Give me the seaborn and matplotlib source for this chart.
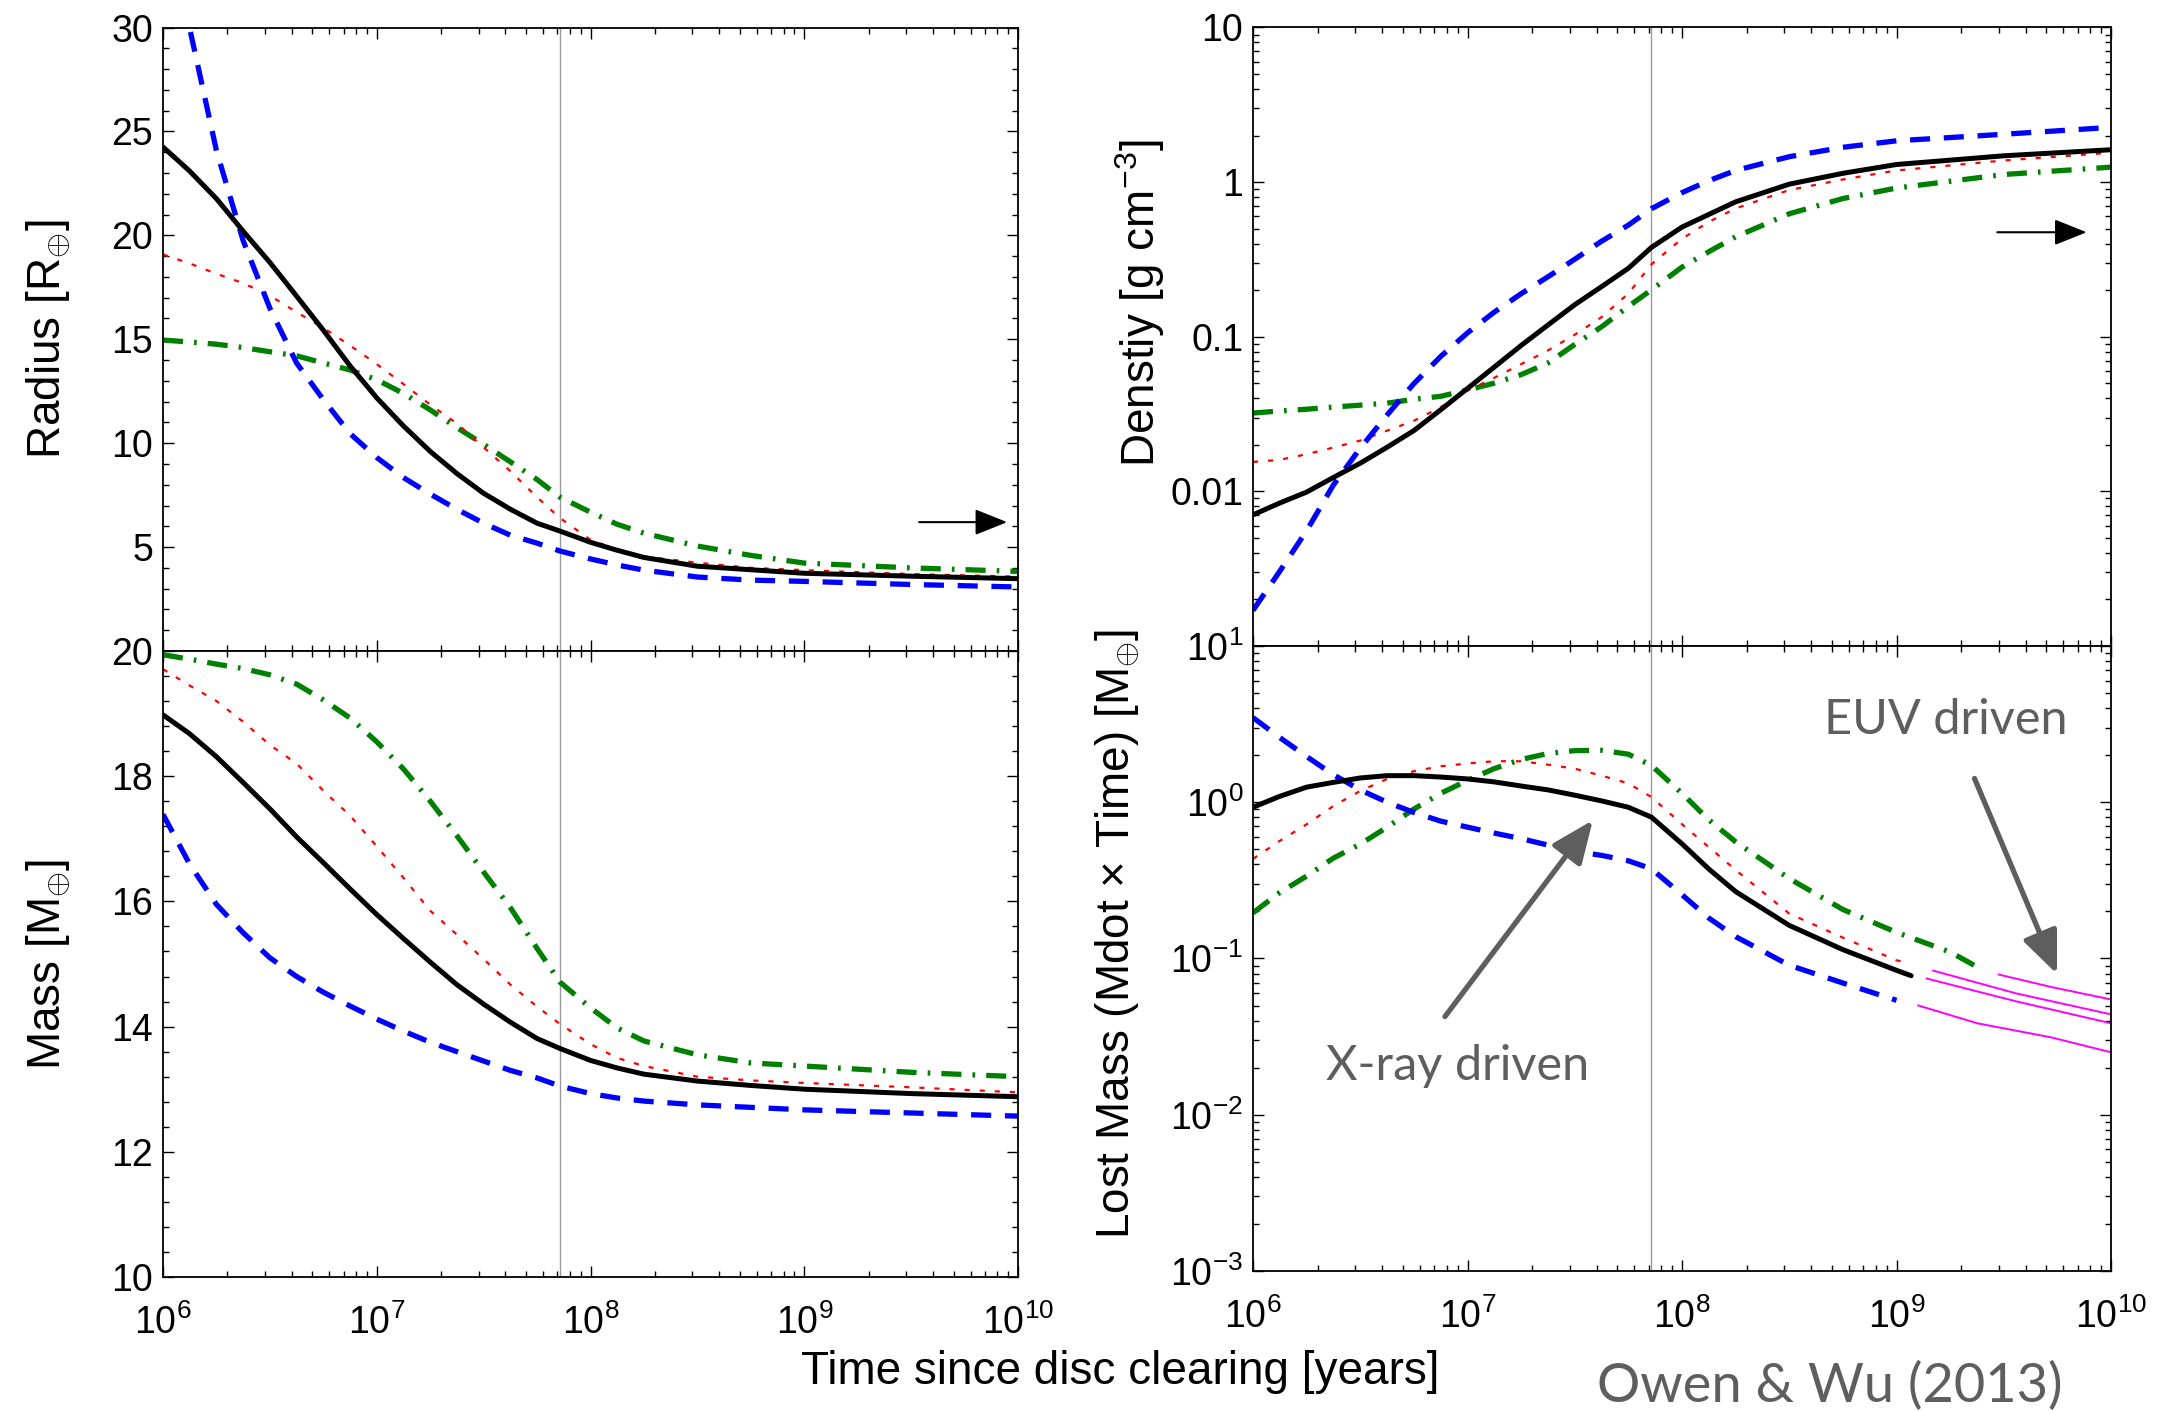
import numpy as np
import pandas as pd
import matplotlib
matplotlib.use('Agg')
import matplotlib.pyplot as plt
from matplotlib.ticker import AutoMinorLocator, LogLocator, NullFormatter, FixedLocator, FixedFormatter
import seaborn as sns

# ---- data ----
# time since disc clearing [yr]
t = [1e6, 1.33e6, 1.78e6, 2.37e6, 3.16e6, 4.22e6, 5.62e6, 7.5e6, 1e7, 1.33e7,
     1.78e7, 2.37e7, 3.16e7, 4.22e7, 5.62e7, 7.2e7, 1e8, 1.33e8, 1.78e8, 3.16e8,
     5.62e8, 1e9, 3.16e9, 1e10]

radius_black = [24.25, 23.1, 21.76, 20.2, 18.7, 17.07, 15.44, 13.72, 12.18, 10.84,
                9.6, 8.54, 7.59, 6.82, 6.15, 5.77, 5.23, 4.85, 4.5, 4.08,
                3.91, 3.74, 3.6, 3.48]
radius_blue = [36.0, 30.0, 24.06, 19.75, 16.5, 13.85, 12.1, 10.46, 9.31, 8.35,
               7.55, 6.82, 6.15, 5.57, 5.19, 4.81, 4.43, 4.14, 3.89, 3.56,
               3.41, 3.35, 3.2, 3.08]
radius_red = [19.08, 18.65, 18.15, 17.7, 17.1, 16.3, 15.55, 14.7, 13.8, 12.85,
              11.85, 10.95, 9.8, 8.65, 7.4, 6.4, 5.35, 4.87, 4.55, 4.25,
              4.0, 3.89, 3.7, 3.58]
radius_green = [14.96, 14.87, 14.76, 14.6, 14.4, 14.2, 13.86, 13.52, 13.05, 12.4,
                11.6, 10.75, 9.95, 9.1, 8.25, 7.4, 6.68, 6.1, 5.67, 5.05,
                4.6, 4.23, 4.0, 3.83]

mass_black = [18.98, 18.68, 18.31, 17.9, 17.48, 17.03, 16.62, 16.2, 15.79, 15.41,
              15.03, 14.67, 14.36, 14.07, 13.81, 13.65, 13.46, 13.34, 13.24, 13.13,
              13.06, 13.0, 12.93, 12.88]
mass_blue = [17.39, 16.6, 15.95, 15.5, 15.1, 14.8, 14.55, 14.33, 14.12, 13.93,
             13.75, 13.6, 13.45, 13.3, 13.18, 13.05, 12.93, 12.86, 12.81, 12.75,
             12.71, 12.67, 12.62, 12.57]
mass_red = [19.71, 19.45, 19.2, 18.87, 18.5, 18.2, 17.77, 17.37, 16.88, 16.38,
            15.85, 15.47, 15.08, 14.67, 14.32, 14.04, 13.72, 13.5, 13.37, 13.2,
            13.14, 13.1, 13.03, 12.95]
mass_green = [19.94, 19.87, 19.79, 19.72, 19.62, 19.47, 19.22, 18.93, 18.55, 18.12,
              17.6, 17.05, 16.47, 15.9, 15.25, 14.71, 14.3, 13.98, 13.77, 13.55,
              13.42, 13.37, 13.27, 13.2]

dens_black = [0.00705, 0.0084, 0.0099, 0.0123, 0.0152, 0.0193, 0.0247, 0.0337, 0.0463, 0.0635,
              0.0879, 0.119, 0.161, 0.211, 0.277, 0.378, 0.512, 0.617, 0.746, 0.97,
              1.14, 1.3, 1.48, 1.62]
dens_blue = [0.0017, 0.00303, 0.00558, 0.011, 0.019, 0.0312, 0.0497, 0.0746, 0.106, 0.144,
             0.19, 0.244, 0.317, 0.415, 0.527, 0.673, 0.855, 1.02, 1.19, 1.46,
             1.68, 1.85, 2.04, 2.26]
dens_red = [0.0155, 0.016, 0.0174, 0.0192, 0.0213, 0.0247, 0.0286, 0.035, 0.0448, 0.0542,
            0.0665, 0.0815, 0.103, 0.134, 0.19, 0.294, 0.43, 0.552, 0.676, 0.889,
            1.04, 1.19, 1.38, 1.55]
dens_green = [0.0321, 0.0331, 0.034, 0.0351, 0.0361, 0.0372, 0.0394, 0.0412, 0.0452, 0.0501,
              0.0569, 0.0676, 0.0891, 0.116, 0.157, 0.201, 0.282, 0.354, 0.443, 0.624,
              0.783, 0.916, 1.12, 1.25]

# lost mass (X-ray driven part), up to ~1e9 yr
t_lost = t[:22]
lost_black = [0.929, 1.09, 1.25, 1.34, 1.43, 1.48, 1.48, 1.45, 1.41, 1.35,
              1.27, 1.2, 1.11, 1.02, 0.929, 0.803, 0.542, 0.375, 0.268, 0.163,
              0.114, 0.084]
lost_blue = [3.48, 2.6, 1.96, 1.5, 1.2, 1.0, 0.861, 0.757, 0.693, 0.635,
             0.585, 0.532, 0.485, 0.457, 0.422, 0.375, 0.256, 0.182, 0.138, 0.0906,
             0.0697, 0.054]
lost_red = [0.434, 0.565, 0.723, 0.946, 1.18, 1.41, 1.58, 1.7, 1.77, 1.83,
            1.83, 1.74, 1.64, 1.48, 1.32, 1.08, 0.723, 0.518, 0.368, 0.194,
            0.136, 0.0973]
lost_green = [0.196, 0.264, 0.337, 0.439, 0.539, 0.693, 0.904, 1.14, 1.38, 1.64,
              1.88, 2.05, 2.14, 2.15, 2.03, 1.72, 1.14, 0.774, 0.558, 0.325,
              0.206, 0.147]
lost_tail_t = {'black': [1.17e9], 'red': [1.135e9], 'green': [1.78e9, 2.5e9]}
lost_tail_v = {'black': [0.0776], 'red': [0.094], 'green': [0.11, 0.085]}

# EUV driven continuation
euv_t = [[2.99e9, 5.37e9, 1e10],
         [1.48e9, 3.63e9, 1e10],
         [1.38e9, 3.63e9, 1e10],
         [1.26e9, 2.38e9, 5.25e9, 1e10]]
euv_v = [[0.079, 0.0653, 0.0547],
         [0.0837, 0.0597, 0.0439],
         [0.0745, 0.0531, 0.0385],
         [0.0501, 0.0385, 0.0313, 0.0251]]

t_clear = 7.2e7

# ---- style ----
sns.set_style('ticks')
plt.rcParams['font.family'] = ['Liberation Sans', 'DejaVu Sans']
plt.rcParams['mathtext.fontset'] = 'custom'
plt.rcParams['mathtext.rm'] = 'Liberation Sans'
plt.rcParams['mathtext.it'] = 'Liberation Sans:italic'
plt.rcParams['mathtext.bf'] = 'Liberation Sans:bold'
plt.rcParams['text.color'] = 'black'
plt.rcParams['axes.labelcolor'] = 'black'
plt.rcParams['xtick.color'] = 'black'
plt.rcParams['ytick.color'] = 'black'

STY = {
    'black': dict(color='black', lw=3.6, linestyle='-'),
    'blue': dict(color='#0000ff', lw=3.8, linestyle=(0, (3.8, 2.6))),
    'red': dict(color='#ff0000', lw=1.6, linestyle=(0, (2.3, 4.5))),
    'green': dict(color='#008000', lw=3.8, linestyle=(0, (3.8, 2.1, 0.5, 2.1))),
}
TICK_FS = 27
LAB_FS = 33
GRAY = '#5e5e5e'


def draw(ax, x, y, key):
    df = pd.DataFrame({'x': x, 'y': y})
    sns.lineplot(data=df, x='x', y='y', ax=ax, **STY[key])


W, H = 2162, 1411
fig = plt.figure(figsize=(W / 100, H / 100), dpi=100)
ax_r = fig.add_axes([163 / W, 1 - 651 / H, 855 / W, 623.5 / H])
ax_m = fig.add_axes([163 / W, 1 - 1277 / H, 855 / W, 626 / H])
ax_d = fig.add_axes([1253 / W, 1 - 646 / H, 858 / W, 618.5 / H])
ax_l = fig.add_axes([1253 / W, 1 - 1271 / H, 858 / W, 625 / H])

for key, r, m, d in [('green', radius_green, mass_green, dens_green),
                     ('red', radius_red, mass_red, dens_red),
                     ('blue', radius_blue, mass_blue, dens_blue),
                     ('black', radius_black, mass_black, dens_black)]:
    draw(ax_r, t, r, key)
    draw(ax_m, t, m, key)
    draw(ax_d, t, d, key)

for key, v in [('green', lost_green), ('red', lost_red),
               ('blue', lost_blue), ('black', lost_black)]:
    xx = list(t_lost) + lost_tail_t.get(key, [])
    yy = list(v) + lost_tail_v.get(key, [])
    draw(ax_l, xx, yy, key)

for xs, vs in zip(euv_t, euv_v):
    sns.lineplot(x=xs, y=vs, ax=ax_l, color='#ff00ff', lw=1.4)

for ax in (ax_r, ax_m, ax_d, ax_l):
    ax.axvline(t_clear, color='#999999', lw=1.0, zorder=0)
    ax.set_xscale('log')
    ax.set_xlim(1e6, 1e10)
    ax.xaxis.set_major_locator(LogLocator(base=10, numticks=10))
    ax.xaxis.set_minor_locator(LogLocator(base=10, subs=np.arange(2, 10), numticks=100))
    ax.xaxis.set_minor_formatter(NullFormatter())
    ax.tick_params(which='both', direction='in', top=True, right=True,
                   labelsize=TICK_FS, width=1.0, color='black', labelcolor='black')
    ax.tick_params(which='major', length=8)
    ax.tick_params(which='minor', length=4.5)
    ax.tick_params(axis='y', pad=7)
    ax.tick_params(axis='x', pad=20)
    ax.set_xlabel('')
    ax.set_ylabel('')
    for sp in ax.spines.values():
        sp.set_linewidth(1.3)
        sp.set_color('black')

for ax in (ax_r, ax_d):
    ax.tick_params(axis='x', labelbottom=False)

# radius
ax_r.set_ylim(0, 30)
ax_r.set_yticks([5, 10, 15, 20, 25, 30])
ax_r.yaxis.set_minor_locator(AutoMinorLocator(5))
ax_r.set_ylabel(r'Radius [R$_{\oplus}$]', fontsize=LAB_FS)

# mass
ax_m.set_ylim(10, 20)
ax_m.set_yticks([10, 12, 14, 16, 18, 20])
ax_m.yaxis.set_minor_locator(AutoMinorLocator(5))
ax_m.set_ylabel(r'Mass [M$_{\oplus}$]', fontsize=LAB_FS)

# density
ax_d.set_yscale('log')
ax_d.set_ylim(1e-3, 10)
ax_d.yaxis.set_major_locator(FixedLocator([0.01, 0.1, 1, 10]))
ax_d.yaxis.set_major_formatter(FixedFormatter(['0.01', '0.1', '1', '10']))
ax_d.yaxis.set_minor_locator(LogLocator(base=10, subs=np.arange(2, 10), numticks=100))
ax_d.yaxis.set_minor_formatter(NullFormatter())
ax_d.set_ylabel(r'Denstiy [g cm$^{-3}$]', fontsize=LAB_FS)

# lost mass
ax_l.set_yscale('log')
ax_l.set_ylim(1e-3, 10)
ax_l.yaxis.set_major_locator(LogLocator(base=10, numticks=10))
ax_l.yaxis.set_minor_locator(LogLocator(base=10, subs=np.arange(2, 10), numticks=100))
ax_l.yaxis.set_minor_formatter(NullFormatter())
ax_l.set_ylabel(r'Lost Mass (Mdot $\times$ Time) [M$_{\oplus}$]', fontsize=LAB_FS)

ax_r.yaxis.set_label_coords(-0.106, 0.5)
ax_m.yaxis.set_label_coords(-0.106, 0.5)
ax_d.yaxis.set_label_coords(-0.1, 0.555)
ax_l.yaxis.set_label_coords(-0.131, 0.54)

# arrows marking the asymptote
for ax, y0, x0, x1 in [(ax_r, 6.2, 3.45e9, 8.9e9), (ax_d, 0.474, 2.95e9, 7.7e9)]:
    ax.annotate('', xy=(x1, y0), xytext=(x0, y0),
                arrowprops=dict(arrowstyle='-|>,head_length=1.0,head_width=0.4',
                                color='black', lw=1.5, mutation_scale=20,
                                shrinkA=0, shrinkB=0))

# X-ray / EUV annotations
ann_font = dict(family=['Lato', 'DejaVu Sans'], color=GRAY, fontsize=35)
for tail, head in [((7.85e6, 0.0425), (3.84e7, 0.767)),
                   ((2.31e9, 1.42), (5.6e9, 0.0796))]:
    ax_l.annotate('', xy=head, xytext=tail,
                  arrowprops=dict(arrowstyle='-|>,head_length=1.3,head_width=0.55',
                                  color=GRAY, lw=3.8, mutation_scale=20,
                                  shrinkA=0, shrinkB=0))
ax_l.text(2.19e6, 0.0206, 'X-ray driven', ha='left', va='center', **ann_font)
ax_l.text(4.57e8, 3.38, 'EUV driven', ha='left', va='center', **ann_font)

fig.text(1120 / W, 1 - 1372 / H, 'Time since disc clearing [years]',
         ha='center', va='center', fontsize=LAB_FS)
fig.text(1597 / W, 1 - 1386 / H, 'Owen & Wu (2013)', ha='left', va='center',
         family=['Lato', 'DejaVu Sans'], color=GRAY, fontsize=39)

fig.savefig('out.png', dpi=100)
